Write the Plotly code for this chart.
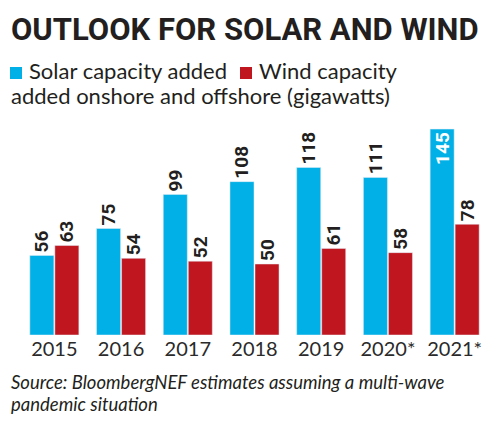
import plotly.graph_objects as go

years = ["2015", "2016", "2017", "2018", "2019", "2020*", "2021*"]
solar = [56, 75, 99, 108, 118, 111, 145]
wind = [63, 54, 52, 50, 61, 58, 78]

CYAN = "#00b0e6"
RED = "#c0161f"
INK = "#231f20"
COND = "Roboto, sans-serif"
BODY = "Lato, Open Sans, sans-serif"

W, H = 500, 421
L, R, T, B = 21, 12, 120, 86
pw, ph = W - L - R, H - T - B

def px(x):
    return (x - L) / pw

def py(y):
    return (H - B - y) / ph

solar_pos = ["outside"] * len(solar)
solar_pos[-1] = "inside"

LBL = dict(family=COND, size=19, color=INK, weight="bold")

fig = go.Figure()
fig.add_trace(go.Bar(
    x=years, y=solar, name="Solar capacity added", marker_color=CYAN,
    text=[str(v) for v in solar], textposition=solar_pos, textangle=-90,
    insidetextanchor="end", constraintext="none",
    outsidetextfont=LBL,
    insidetextfont=dict(LBL, color="white"),
    cliponaxis=False,
))
fig.add_trace(go.Bar(
    x=years, y=wind, name="Wind capacity", marker_color=RED,
    text=[str(v) for v in wind], textposition="outside", textangle=-90,
    constraintext="none",
    outsidetextfont=LBL,
    cliponaxis=False,
))

annotations = [
    dict(text="<b>OUTLOOK FOR SOLAR AND WIND</b>", x=px(9), y=py(30), xref="paper", yref="paper",
         xanchor="left", yanchor="middle", showarrow=False,
         font=dict(family=COND, size=31, color=INK)),
    dict(text="Solar capacity added", x=px(27), y=py(71), xref="paper", yref="paper",
         xanchor="left", yanchor="middle", showarrow=False,
         font=dict(family=BODY, size=22, color=INK)),
    dict(text="Wind capacity", x=px(257), y=py(71), xref="paper", yref="paper",
         xanchor="left", yanchor="middle", showarrow=False,
         font=dict(family=BODY, size=22, color=INK)),
    dict(text="added onshore and offshore (gigawatts)", x=px(9), y=py(96), xref="paper", yref="paper",
         xanchor="left", yanchor="middle", showarrow=False,
         font=dict(family=BODY, size=22, color=INK)),
    dict(text="<i>Source: BloombergNEF estimates assuming a multi-wave</i>", x=px(9), y=py(382),
         xref="paper", yref="paper", xanchor="left", yanchor="middle", showarrow=False,
         font=dict(family=BODY, size=18.5, color=INK)),
    dict(text="<i>pandemic situation</i>", x=px(9), y=py(404),
         xref="paper", yref="paper", xanchor="left", yanchor="middle", showarrow=False,
         font=dict(family=BODY, size=18.5, color=INK)),
]

shapes = [
    dict(type="rect", xref="paper", yref="paper", x0=px(10), x1=px(22), y0=py(79), y1=py(67),
         fillcolor=CYAN, line_width=0),
    dict(type="rect", xref="paper", yref="paper", x0=px(240), x1=px(252), y0=py(79), y1=py(67),
         fillcolor=RED, line_width=0),
]

fig.update_layout(
    width=W, height=H, margin=dict(l=L, r=R, t=T, b=B),
    paper_bgcolor="white", plot_bgcolor="white",
    barmode="group", bargap=0.25, bargroupgap=0.04,
    showlegend=False,
    annotations=annotations, shapes=shapes,
    xaxis=dict(showgrid=False, showline=False, ticks="", zeroline=False,
               tickfont=dict(family=BODY, size=20, color="#2a2a2a")),
    yaxis=dict(visible=False, range=[0, ph / 1.42]),
)

fig.write_html("out.html")
